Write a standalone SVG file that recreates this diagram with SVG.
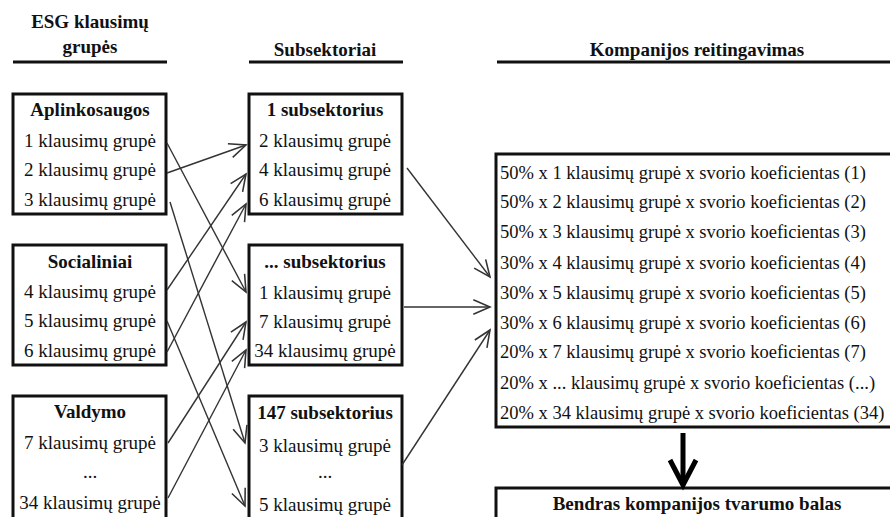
<svg xmlns="http://www.w3.org/2000/svg" width="890" height="517" viewBox="0 0 890 517">
<style>
text{font-family:"Liberation Serif","Times New Roman",serif;font-size:19px;fill:#111;}
.b{font-weight:bold;}
.c{text-anchor:middle;}
.r{font-size:18.5px;}
.box{fill:#fff;stroke:#111;stroke-width:3;}
.hl{stroke:#111;stroke-width:3;}
.con line{stroke:#333;stroke-width:1.4;marker-end:url(#ah);}
</style>
<defs>
<marker id="ah" markerUnits="userSpaceOnUse" markerWidth="20" markerHeight="20" viewBox="-16 -8 18 16" refX="0" refY="0" orient="auto">
<path d="M-15,-6.5 L0,0 L-15,6.5" fill="none" stroke="#333" stroke-width="1.4"/>
</marker>
</defs>
<g id="headers">
<text class="b c" x="90" y="28">ESG klausimų</text>
<text class="b c" x="90" y="53">grupės</text>
<line class="hl" x1="13" y1="62" x2="167" y2="62"/>
<text class="b c" x="325" y="56">Subsektoriai</text>
<line class="hl" x1="249" y1="62" x2="403" y2="62"/>
<text class="b c" x="697" y="56">Kompanijos reitingavimas</text>
<line class="hl" x1="497" y1="62" x2="890" y2="62"/>
</g>
<g id="aplinkosaugos">
<rect class="box" x="13" y="94" width="153" height="120"/>
<text class="b c" x="90" y="116">Aplinkosaugos</text>
<text class="c" x="90" y="147">1 klausimų grupė</text>
<text class="c" x="90" y="176">2 klausimų grupė</text>
<text class="c" x="90" y="206">3 klausimų grupė</text>
</g>
<g id="socialiniai">
<rect class="box" x="13" y="245" width="153" height="120"/>
<text class="b c" x="90" y="268">Socialiniai</text>
<text class="c" x="90" y="298">4 klausimų grupė</text>
<text class="c" x="90" y="327">5 klausimų grupė</text>
<text class="c" x="90" y="357">6 klausimų grupė</text>
</g>
<g id="valdymo">
<rect class="box" x="13" y="396" width="153" height="130"/>
<text class="b c" x="90" y="418">Valdymo</text>
<text class="c" x="90" y="449">7 klausimų grupė</text>
<text class="c" x="90" y="478">...</text>
<text class="c" x="90" y="509">34 klausimų grupė</text>
</g>
<g id="sub1">
<rect class="box" x="249" y="94" width="153" height="120"/>
<text class="b c" x="325" y="116">1 subsektorius</text>
<text class="c" x="325" y="147">2 klausimų grupė</text>
<text class="c" x="325" y="176">4 klausimų grupė</text>
<text class="c" x="325" y="206">6 klausimų grupė</text>
</g>
<g id="subdots">
<rect class="box" x="249" y="245" width="153" height="120"/>
<text class="b c" x="325" y="268">... subsektorius</text>
<text class="c" x="325" y="299">1 klausimų grupė</text>
<text class="c" x="325" y="328">7 klausimų grupė</text>
<text class="c" x="325" y="357">34 klausimų grupė</text>
</g>
<g id="sub147">
<rect class="box" x="249" y="396" width="153" height="130"/>
<text class="b c" x="325" y="419">147 subsektorius</text>
<text class="c" x="325" y="452">3 klausimų grupė</text>
<text class="c" x="325" y="478">...</text>
<text class="c" x="325" y="511">5 klausimų grupė</text>
</g>
<g id="reitingavimas">
<rect class="box" x="496" y="154" width="400" height="273"/>
<text class="r" x="500" y="179">50% x 1 klausimų grupė x svorio koeficientas (1)</text>
<text class="r" x="500" y="208">50% x 2 klausimų grupė x svorio koeficientas (2)</text>
<text class="r" x="500" y="238">50% x 3 klausimų grupė x svorio koeficientas (3)</text>
<text class="r" x="500" y="269">30% x 4 klausimų grupė x svorio koeficientas (4)</text>
<text class="r" x="500" y="299">30% x 5 klausimų grupė x svorio koeficientas (5)</text>
<text class="r" x="500" y="329">30% x 6 klausimų grupė x svorio koeficientas (6)</text>
<text class="r" x="500" y="358">20% x 7 klausimų grupė x svorio koeficientas (7)</text>
<text class="r" x="500" y="389">20% x ... klausimų grupė x svorio koeficientas (...)</text>
<text class="r" x="500" y="419">20% x 34 klausimų grupė x svorio koeficientas (34)</text>
</g>
<g id="balas">
<rect class="box" x="496" y="488" width="400" height="40"/>
<text class="b c" x="697" y="510">Bendras kompanijos tvarumo balas</text>
</g>
<g id="connectors" class="con">
<line x1="167" y1="143" x2="246" y2="292"/>
<line x1="167" y1="173" x2="246" y2="145"/>
<line x1="170" y1="202" x2="245" y2="443"/>
<line x1="167" y1="290" x2="246" y2="174"/>
<line x1="167" y1="321" x2="245" y2="506"/>
<line x1="167" y1="352" x2="246" y2="204"/>
<line x1="168" y1="443" x2="246" y2="322"/>
<line x1="168" y1="498" x2="246" y2="350"/>
<line x1="407" y1="168" x2="490" y2="277"/>
<line x1="404" y1="307" x2="490" y2="307"/>
<line x1="402" y1="465" x2="490" y2="330"/>
<g id="down-arrow">
<line x1="683" y1="433" x2="683" y2="484" style="stroke:#000;stroke-width:5;marker-end:none"/>
<path d="M670,460 L683,485 L696,460" fill="none" stroke="#000" stroke-width="5" stroke-linejoin="miter"/>
</g>
</g>
</svg>
